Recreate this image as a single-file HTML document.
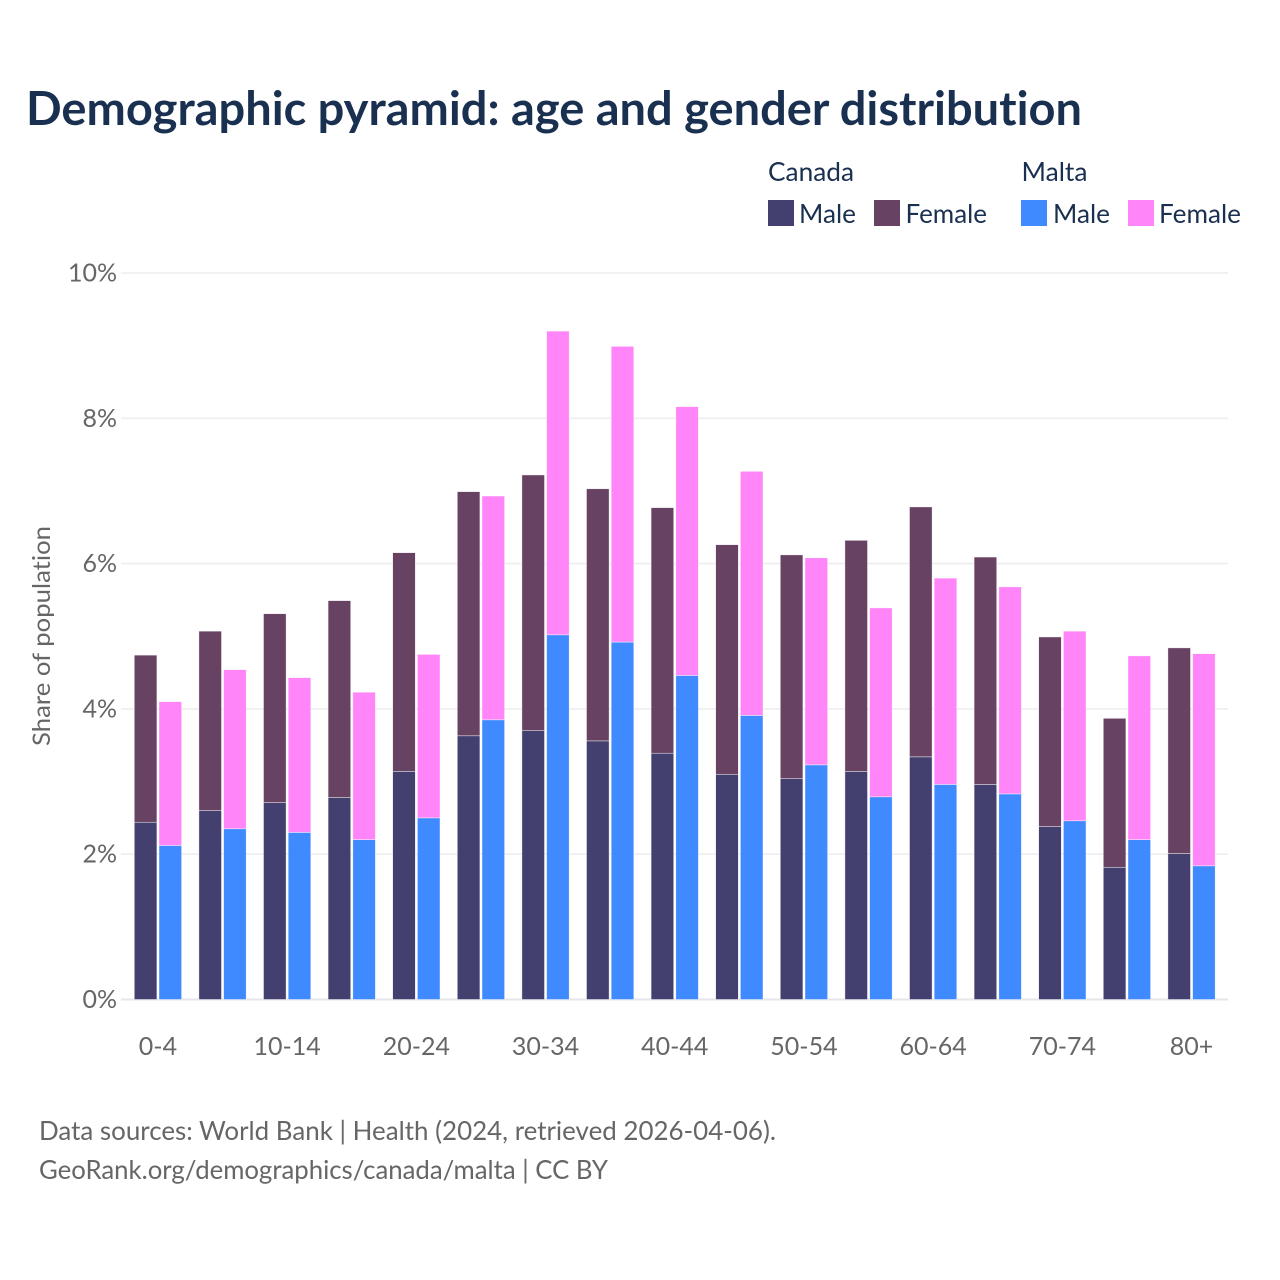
<!DOCTYPE html>
<html lang="en">
<head>
<meta charset="utf-8">
<title>Demographic pyramid</title>
<style>
html,body{margin:0;padding:0;background:#fff;}
svg{display:block;}
text{font-family:Lato,Carlito,"Liberation Sans",sans-serif;font-variant-ligatures:none;}
</style>
</head>
<body>
<svg id="chart" xmlns="http://www.w3.org/2000/svg" width="1280" height="1280" viewBox="0 0 1280 1280">
  <rect width="1280" height="1280" fill="#ffffff"/>
  <text x="26" y="125" font-size="47" font-weight="700" fill="#1a3050" textLength="1056" lengthAdjust="spacingAndGlyphs">Demographic pyramid: age and gender distribution</text>

  <g font-size="26.5" fill="#1a3050">
    <text x="768" y="181" textLength="86" lengthAdjust="spacingAndGlyphs">Canada</text>
    <text x="1021.5" y="181" textLength="66" lengthAdjust="spacingAndGlyphs">Malta</text>
    <rect x="768" y="200" width="26" height="26" fill="#434070"/>
    <text x="799" y="223" textLength="57" lengthAdjust="spacingAndGlyphs">Male</text>
    <rect x="874" y="200" width="26" height="26" fill="#684263"/>
    <text x="905.5" y="223" textLength="81.5" lengthAdjust="spacingAndGlyphs">Female</text>
    <rect x="1021" y="200" width="26" height="26" fill="#408aff"/>
    <text x="1053" y="223" textLength="57" lengthAdjust="spacingAndGlyphs">Male</text>
    <rect x="1128" y="200" width="26" height="26" fill="#ff85f8"/>
    <text x="1159" y="223" textLength="82" lengthAdjust="spacingAndGlyphs">Female</text>
  </g>

  <g id="grid"></g>
  <g id="yticks"></g>
  <g id="bars"></g>
  <g id="xticks"></g>

  <text transform="translate(50 636) rotate(-90)" text-anchor="middle" font-size="24.5" fill="#666666" textLength="220" lengthAdjust="spacingAndGlyphs">Share of population</text>

  <text x="39" y="1140" font-size="26.5" fill="#666666" textLength="737" lengthAdjust="spacingAndGlyphs">Data sources: World Bank | Health (2024, retrieved 2026-04-06).</text>
  <text x="39" y="1179" font-size="26.5" fill="#666666" textLength="569" lengthAdjust="spacingAndGlyphs">GeoRank.org/demographics/canada/malta | CC BY</text>
</svg>
<script>
const categories = ["0-4","5-9","10-14","15-19","20-24","25-29","30-34","35-39","40-44","45-49","50-54","55-59","60-64","65-69","70-74","75-79","80+"];
const xTickLabels = ["0-4","10-14","20-24","30-34","40-44","50-54","60-64","70-74","80+"];
const yTickValues = [0,2,4,6,8,10];
const canadaMale = [2.44,2.60,2.71,2.78,3.14,3.63,3.70,3.56,3.39,3.10,3.04,3.14,3.34,2.96,2.38,1.82,2.01];
const canadaFemale = [2.30,2.47,2.60,2.71,3.01,3.36,3.52,3.47,3.38,3.16,3.08,3.18,3.44,3.13,2.61,2.05,2.83];
const maltaMale = [2.12,2.35,2.30,2.20,2.50,3.85,5.02,4.92,4.46,3.91,3.23,2.79,2.96,2.83,2.46,2.20,1.84];
const maltaFemale = [1.98,2.19,2.13,2.03,2.25,3.08,4.18,4.07,3.70,3.36,2.85,2.60,2.84,2.85,2.61,2.53,2.92];

const NS = "http://www.w3.org/2000/svg";
const y0 = 999.5, pxPerUnit = 72.65;
const bandStart = 125.65, bandStep = 64.6;
const barW = 22.6, barGap = 2.1;

function yScale(v){ return y0 - v * pxPerUnit; }
function xCenter(i){ return bandStart + bandStep * (i + 0.5); }

function make(tag, attrs, parent){
  const el = document.createElementNS(NS, tag);
  for (const k in attrs) el.setAttribute(k, attrs[k]);
  parent.appendChild(el);
  return el;
}

const gridG = document.getElementById("grid");
const yG = document.getElementById("yticks");
yTickValues.forEach(function(v){
  const line = make("line", {x1:121, x2:1228, y1:yScale(v), y2:yScale(v), stroke: v === 0 ? "#e6e6ea" : "#eeeef0", "stroke-width": v === 0 ? 2 : 1.6}, gridG);
  
  
  const t = make("text", {x:117, y:yScale(v)+8.5, "text-anchor":"end", "font-size":25, fill:"#666666"}, yG);
  
  
  t.textContent = v + "%";
});

const barsG = document.getElementById("bars");
function drawBar(x, base, value, fill){
  const r = make("rect", {x:x, y:yScale(base+value), width:barW, height:value*pxPerUnit, fill:fill, stroke:"#ffffff", "stroke-width":0.6, "stroke-opacity":0.7}, barsG);
  
  
}
categories.forEach(function(c, i){
  const cx = xCenter(i);
  const xL = cx - barGap/2 - barW;
  const xR = cx + barGap/2;
  drawBar(xL, 0, canadaMale[i], "#434070");
  drawBar(xL, canadaMale[i], canadaFemale[i], "#684263");
  drawBar(xR, 0, maltaMale[i], "#408aff");
  drawBar(xR, maltaMale[i], maltaFemale[i], "#ff85f8");
});

const xG = document.getElementById("xticks");
xTickLabels.forEach(function(label){
  const t = make("text", {x:xCenter(categories.indexOf(label)), y:1055, "text-anchor":"middle", "font-size":25, fill:"#666666"}, xG);
  
  
  t.textContent = label;
});
</script>
</body>
</html>
